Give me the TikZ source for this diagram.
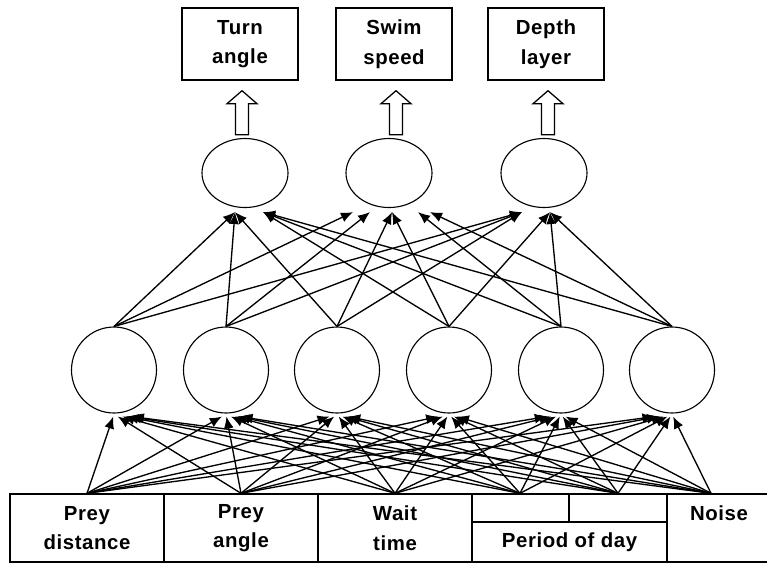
\documentclass[tikz,border=0pt]{standalone}
\usepackage{fontspec}
\setmainfont{Liberation Sans}[LetterSpace=3]
\usetikzlibrary{calc,arrows.meta,shapes.geometric}

\begin{document}
\begin{tikzpicture}[x=0.25mm, y=-0.25mm,
      font=\fontsize{14.5}{21}\selectfont\bfseries,
      cell/.style={draw, line width=1pt, inner sep=0pt, align=center,
                   minimum width=#1, minimum height=17mm},
      outbox/.style={draw, line width=1pt, align=center,
                     minimum width=29mm, minimum height=18mm},
      hid/.style={ellipse, draw, line width=0.8pt, minimum width=21.25mm, minimum height=21.5mm},
      outu/.style={ellipse, draw, line width=0.8pt, minimum width=21.5mm, minimum height=17.25mm},
      link/.style={line width=0.95pt, -{Latex[length=3mm,width=2.5mm]}},
      hollow/.style={draw, line width=0.9pt, fill=white, line join=miter}]
    \useasboundingbox (0,0) rectangle (767,564);
    \node[outbox] (t1) at (240,44) {Turn\\angle};
    \node[outbox] (t2) at (394,44) {Swim\\speed};
    \node[outbox] (t3) at (546,44) {Depth\\layer};
    \node[outu] (o1) at (245,173) {};
    \node[outu] (o2) at (389,173) {};
    \node[outu] (o3) at (544,173) {};
    \foreach \n/\x in {h1/114,h2/226,h3/337,h4/449,h5/561,h6/672}
      \node[hid] (\n) at (\x,370) {};
    \node[cell=38.5mm] (pd) at (87,528) {Prey\\distance};
    \node[cell=38.5mm] (pa) at (241,528) {Prey\\angle};
    \node[cell=38.5mm] (wt) at (395,528) {Wait\\time};
    \node[cell=24.25mm, minimum height=7mm] (p1) at (520.5,508) {};
    \node[cell=24.5mm, minimum height=7mm] (p2) at (618,508) {};
    \node[cell=48.75mm, minimum height=10mm] (pod) at (569.5,542) {Period of day};
    \node[cell=26mm] (nz) at (719,528) {Noise\\\mbox{}};
    \foreach \t in {t1,t2,t3}
      \draw[hollow] ($(\t.south)+(-4.5,54)$) -- ++(0,-31) -- ++(-8.5,0) -- ++(15,-13)
        -- ++(15,13) -- ++(-8.5,0) -- ++(0,31) -- cycle;
    \foreach \h/\hx in {h1/114,h2/226,h3/337,h4/449,h5/561,h6/672}
      \foreach \i/\ix in {pd/87,pa/241,wt/395,p1/520,p2/618,nz/711} {
        \pgfmathsetmacro\off{0.03*(\ix-\hx)}
        \draw[link] (\i.north -| \ix,0) -- ($(\h.south)+(\off,3)$);
      }
    \foreach \h/\a/\b/\c in {h1/-10/-36/-22,h2/-10/-19/-22,h3/-10/3/-22,
                             h4/18/3/6,h5/18/29/6,h6/18/41/6} {
      \draw[link] (\h.north) -- ($(o1.south)+(\a,4)$);
      \draw[link] (\h.north) -- ($(o2.south)+(\b,4)$);
      \draw[link] (\h.north) -- ($(o3.south)+(\c,4)$);
    }
  \end{tikzpicture}
\end{document}
